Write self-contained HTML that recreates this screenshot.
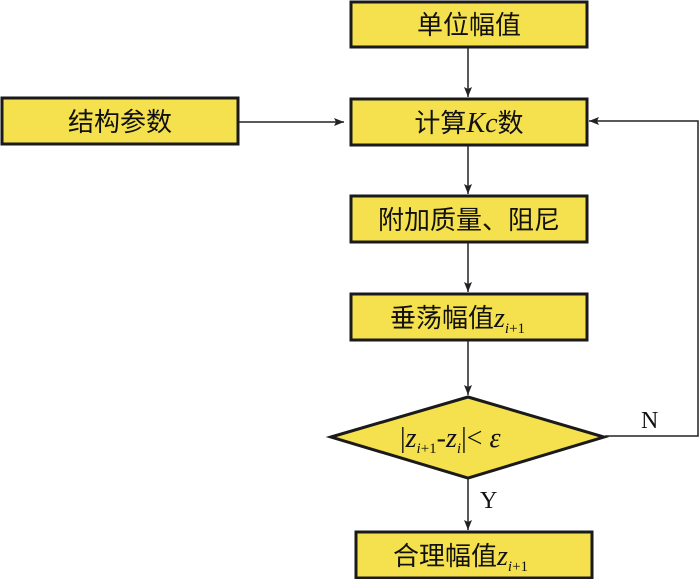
<!DOCTYPE html>
<html><head><meta charset="utf-8"><style>
body{margin:0;background:#fff;width:700px;height:579px;overflow:hidden}
text{font-family:"Liberation Serif","Noto Serif CJK SC",serif;fill:#111}
.cj{font-family:"Noto Sans CJK SC","WenQuanYi Zen Hei",sans-serif;font-size:26px}
</style></head><body>
<svg width="700" height="579" viewBox="0 0 700 579" xmlns="http://www.w3.org/2000/svg">
<defs><marker id="a" markerWidth="10" markerHeight="8" refX="10" refY="4" orient="auto" markerUnits="userSpaceOnUse"><path d="M0,0 L10,4 L0,8 L2,4z" fill="#222"/></marker></defs>
<g fill="#f5e14d" stroke="#1a1a1a" stroke-width="3">
<rect x="351" y="2" width="236" height="45"/>
<rect x="351" y="99" width="236" height="46"/>
<rect x="2" y="98" width="236" height="46"/>
<rect x="351" y="196" width="236" height="46"/>
<rect x="351" y="294" width="236" height="46"/>
<polygon points="331,437 468,397 604,437 468,478"/>
<rect x="356" y="532" width="236" height="46"/>
</g>
<g stroke="#222" stroke-width="1.5" fill="none">
<line x1="468" y1="48" x2="468" y2="97" marker-end="url(#a)"/>
<line x1="468" y1="146" x2="468" y2="194" marker-end="url(#a)"/>
<line x1="468" y1="243" x2="468" y2="292" marker-end="url(#a)"/>
<line x1="468" y1="341" x2="468" y2="395" marker-end="url(#a)"/>
<line x1="468" y1="479" x2="468" y2="530" marker-end="url(#a)"/>
<line x1="239" y1="122" x2="344" y2="122" marker-end="url(#a)"/>
<polyline points="605,436 698,436 698,121 589,121" marker-end="url(#a)"/>
</g>
<text class="cj" x="469" y="34" text-anchor="middle">单位幅值</text>
<text x="469" y="132" text-anchor="middle"><tspan class="cj">计算</tspan><tspan font-size="28" font-style="italic">Kc</tspan><tspan class="cj">数</tspan></text>
<text class="cj" x="120" y="131" text-anchor="middle">结构参数</text>
<text class="cj" x="469" y="229" text-anchor="middle">附加质量、阻尼</text>
<text x="390" y="327"><tspan class="cj">垂荡幅值</tspan><tspan font-size="28" font-style="italic">z</tspan><tspan font-size="15" font-style="italic" dy="6">i</tspan><tspan font-size="15">+1</tspan></text>
<text x="400" y="447" font-size="28"><tspan>|</tspan><tspan font-style="italic">z</tspan><tspan font-size="15" font-style="italic" dy="6">i</tspan><tspan font-size="15">+1</tspan><tspan dy="-6">-</tspan><tspan font-style="italic">z</tspan><tspan font-size="15" font-style="italic" dy="6">i</tspan><tspan dy="-6">|&lt; </tspan><tspan font-style="italic">ε</tspan></text>
<text x="393" y="565"><tspan class="cj">合理幅值</tspan><tspan font-size="28" font-style="italic">z</tspan><tspan font-size="15" font-style="italic" dy="6">i</tspan><tspan font-size="15">+1</tspan></text>
<text x="641" y="428" font-size="24">N</text>
<text x="480" y="508" font-size="24">Y</text>
</svg>
</body></html>
